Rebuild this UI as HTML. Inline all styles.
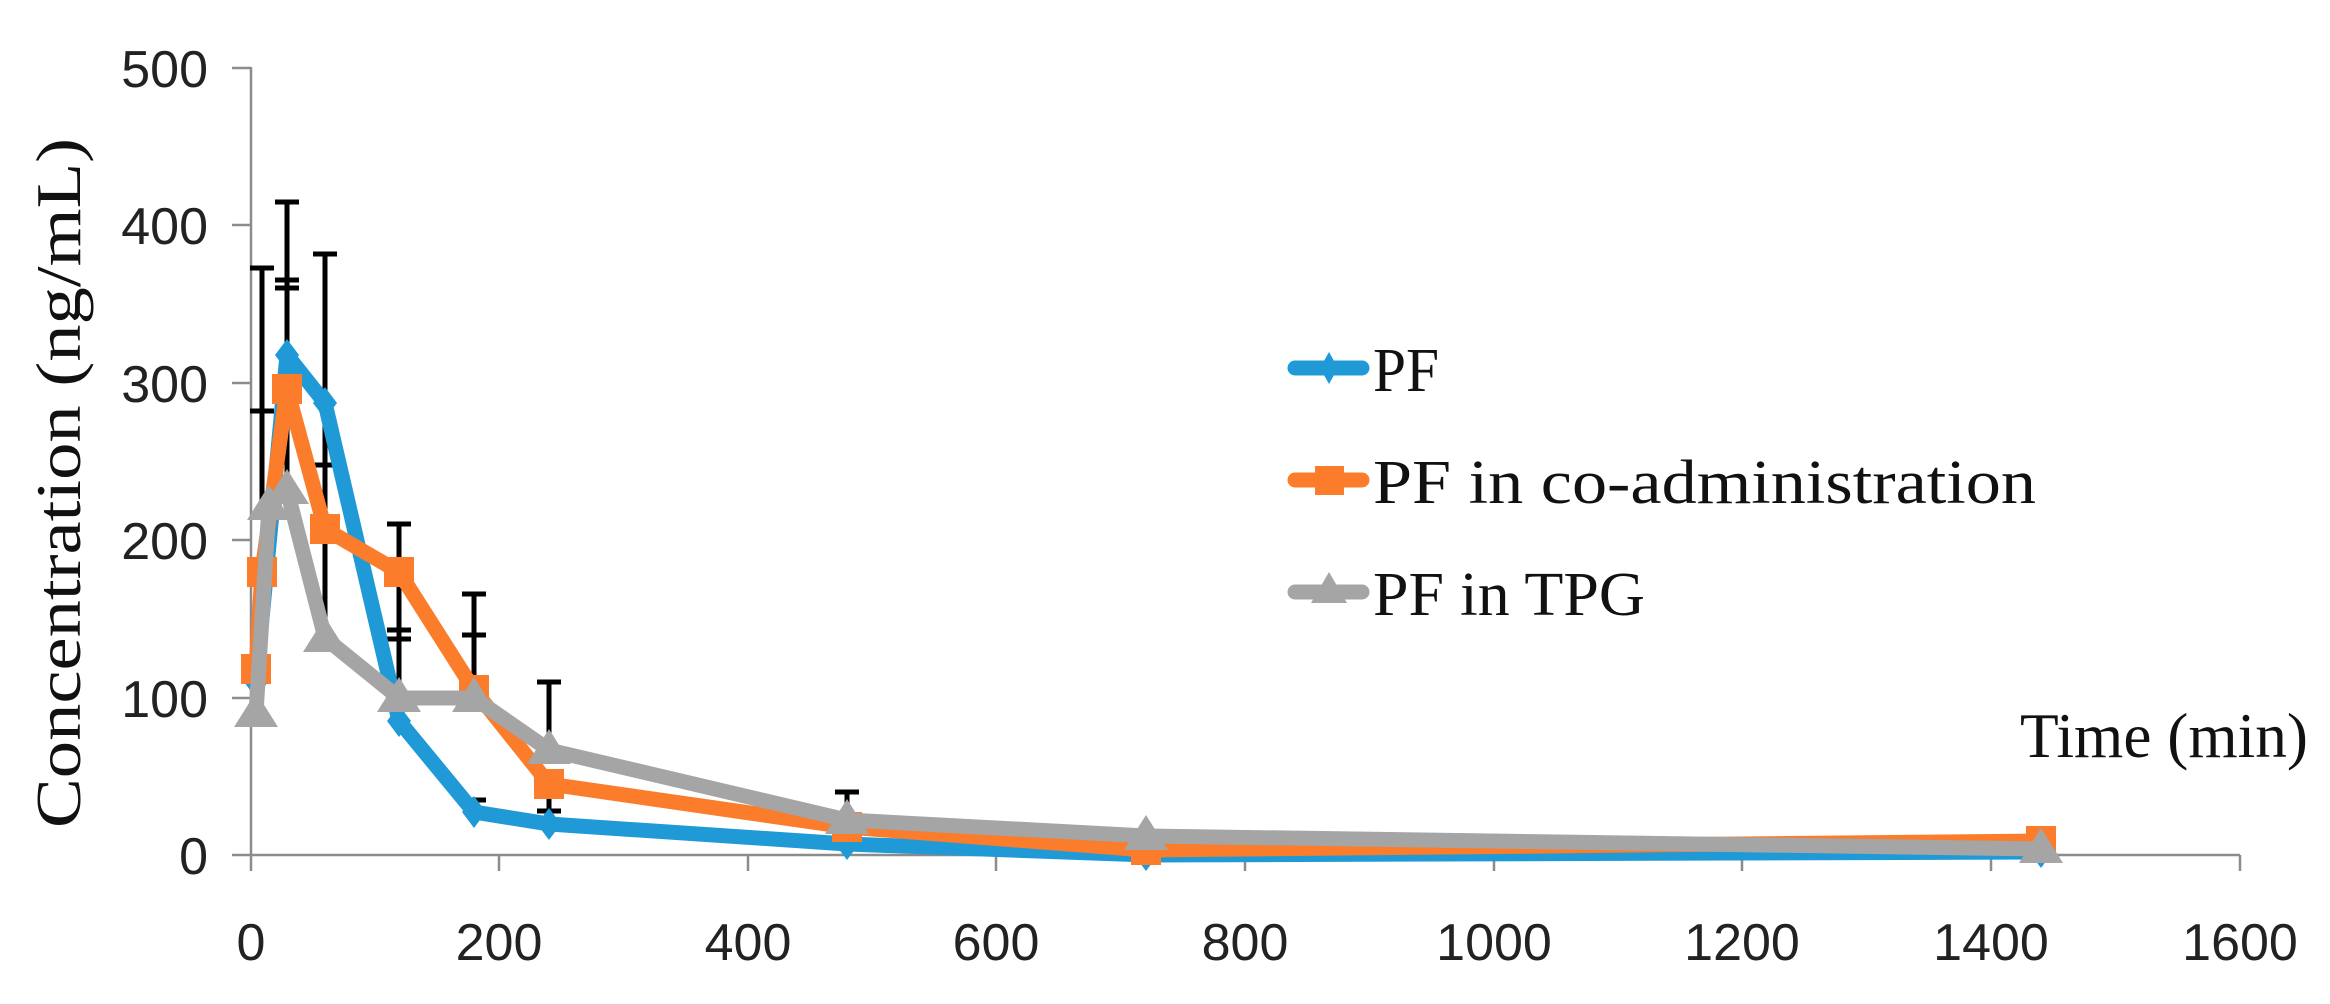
<!DOCTYPE html>
<html><head><meta charset="utf-8"><style>html,body{margin:0;padding:0;background:#fff}svg{display:block}</style></head>
<body>
<svg width="2330" height="1004" viewBox="0 0 2330 1004" xmlns="http://www.w3.org/2000/svg">
<g stroke="#8c8c8c" stroke-width="2.5" fill="none">
<line x1="251" y1="67" x2="251" y2="856"/>
<line x1="232" y1="855" x2="2240" y2="855"/>
<line x1="232" y1="68" x2="251" y2="68"/>
<line x1="232" y1="225" x2="251" y2="225"/>
<line x1="232" y1="383" x2="251" y2="383"/>
<line x1="232" y1="540" x2="251" y2="540"/>
<line x1="232" y1="698" x2="251" y2="698"/>
<line x1="251" y1="855" x2="251" y2="871"/>
<line x1="499" y1="855" x2="499" y2="871"/>
<line x1="748" y1="855" x2="748" y2="871"/>
<line x1="996" y1="855" x2="996" y2="871"/>
<line x1="1245" y1="855" x2="1245" y2="871"/>
<line x1="1494" y1="855" x2="1494" y2="871"/>
<line x1="1742" y1="855" x2="1742" y2="871"/>
<line x1="1991" y1="855" x2="1991" y2="871"/>
<line x1="2240" y1="855" x2="2240" y2="871"/>
</g>
<g font-family="Liberation Sans, sans-serif" font-size="52" fill="#222" text-anchor="end">
<text x="208" y="87">500</text>
<text x="208" y="244">400</text>
<text x="208" y="402">300</text>
<text x="208" y="559">200</text>
<text x="208" y="717">100</text>
<text x="208" y="874">0</text>
</g>
<g font-family="Liberation Sans, sans-serif" font-size="52" fill="#222" text-anchor="middle">
<text x="251" y="960">0</text>
<text x="499" y="960">200</text>
<text x="748" y="960">400</text>
<text x="996" y="960">600</text>
<text x="1245" y="960">800</text>
<text x="1494" y="960">1000</text>
<text x="1742" y="960">1200</text>
<text x="1991" y="960">1400</text>
<text x="2240" y="960">1600</text>
</g>
<text transform="translate(80,483) rotate(-90)" font-family="Liberation Serif, serif" font-size="64" fill="#111" text-anchor="middle" textLength="690" lengthAdjust="spacingAndGlyphs">Concentration (ng/mL)</text>
<text x="2020" y="757" font-family="Liberation Serif, serif" font-size="64" fill="#111" textLength="288" lengthAdjust="spacingAndGlyphs">Time (min)</text>
<g stroke="#000" stroke-width="5" fill="none">
<path d="M262 506V268M250 268H274M250 411H274"/>
<path d="M287 490V202M275 202H299M275 280H299M275 288H299"/>
<path d="M325 638V254M313 254H337M313 465H337"/>
<path d="M399 698V524M387 524H411M387 630H411M387 639H411"/>
<path d="M474 698V594M462 594H486M462 635H486M474 812V800M462 800H486"/>
<path d="M549 750V682M537 682H561M549 784V811M537 811H561"/>
<path d="M847 820V792M835 792H859"/>
<path d="M2041 841V831M2029 831H2053"/>
</g>
<polyline fill="none" stroke="#1f9ad6" stroke-width="15" stroke-linejoin="round" points="256,682 287,355 325,403 399,721 474,812 549,824 847,844 1146,855 2041,852"/>
<g fill="#1f9ad6">
<path d="M256 666l12 16-12 16-12-16z"/><path d="M287 339l12 16-12 16-12-16z"/><path d="M325 387l12 16-12 16-12-16z"/><path d="M399 705l12 16-12 16-12-16z"/><path d="M474 796l12 16-12 16-12-16z"/><path d="M549 808l12 16-12 16-12-16z"/><path d="M847 828l12 16-12 16-12-16z"/><path d="M1146 839l12 16-12 16-12-16z"/><path d="M2041 836l12 16-12 16-12-16z"/>
</g>
<polyline fill="none" stroke="#fb7c2a" stroke-width="15" stroke-linejoin="round" points="256,669 262,572 287,389 325,529 399,572 474,690 549,784 847,827 1146,850 2041,841"/>
<g fill="#fb7c2a">
<rect x="241" y="654" width="30" height="30"/><rect x="247" y="557" width="30" height="30"/><rect x="272" y="374" width="30" height="30"/><rect x="310" y="514" width="30" height="30"/><rect x="384" y="557" width="30" height="30"/><rect x="459" y="675" width="30" height="30"/><rect x="534" y="769" width="30" height="30"/><rect x="832" y="812" width="30" height="30"/><rect x="1131" y="835" width="30" height="30"/><rect x="2026" y="826" width="30" height="30"/>
</g>
<polyline fill="none" stroke="#a5a5a5" stroke-width="15" stroke-linejoin="round" points="256,713 269,506 287,490 325,638 399,698 474,698 549,750 847,820 1146,836 2041,849"/>
<g fill="#a5a5a5">
<path d="M256 692l22 35h-44z"/><path d="M269 485l22 35h-44z"/><path d="M287 469l22 35h-44z"/><path d="M325 617l22 35h-44z"/><path d="M399 677l22 35h-44z"/><path d="M474 677l22 35h-44z"/><path d="M549 729l22 35h-44z"/><path d="M847 799l22 35h-44z"/><path d="M1146 815l22 35h-44z"/><path d="M2041 828l22 35h-44z"/>
</g>
<line x1="1295" y1="368" x2="1362" y2="368" stroke="#1f9ad6" stroke-width="15" stroke-linecap="round"/>
<path d="M1329 352l9 16-9 16-9-16z" fill="#1f9ad6"/>
<line x1="1295" y1="480" x2="1362" y2="480" stroke="#fb7c2a" stroke-width="15" stroke-linecap="round"/>
<rect x="1315" y="466" width="29" height="29" fill="#fb7c2a"/>
<line x1="1295" y1="592" x2="1362" y2="592" stroke="#a5a5a5" stroke-width="15" stroke-linecap="round"/>
<path d="M1329 572l18 31h-36z" fill="#a5a5a5"/>
<g font-family="Liberation Serif, serif" font-size="62" fill="#111">
<text x="1373" y="391" textLength="66" lengthAdjust="spacingAndGlyphs">PF</text>
<text x="1373" y="503" textLength="663" lengthAdjust="spacingAndGlyphs">PF in co-administration</text>
<text x="1373" y="615" textLength="272" lengthAdjust="spacingAndGlyphs">PF in TPG</text>
</g>
</svg>
</body></html>
